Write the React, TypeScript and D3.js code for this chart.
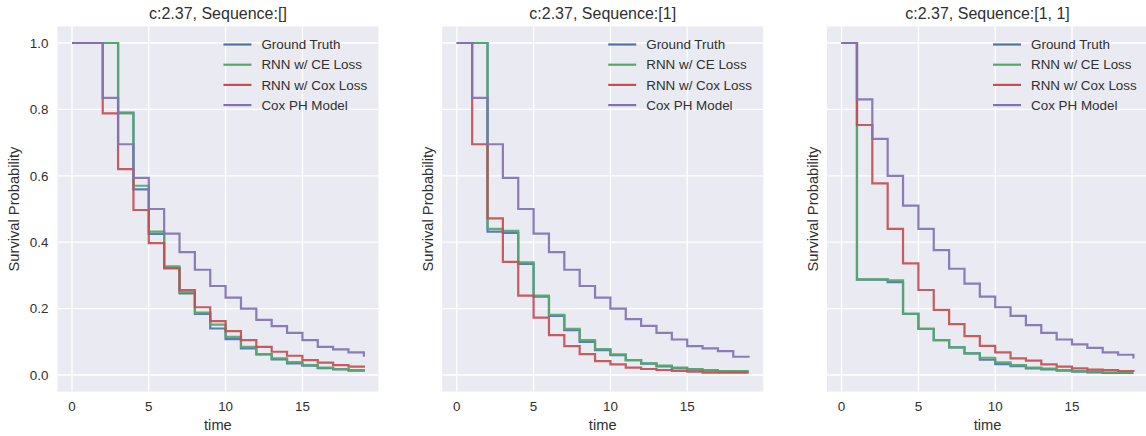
import React, { useEffect, useRef } from 'react';
import * as d3 from 'd3';

// time steps shared by every panel
const times = [0, 1, 2, 3, 4, 5, 6, 7, 8, 9, 10, 11, 12, 13, 14, 15, 16, 17, 18, 19];

const seriesNames = ['Ground Truth', 'RNN w/ CE Loss', 'RNN w/ Cox Loss', 'Cox PH Model'];
const seriesColors = ['#4C72B0', '#55A868', '#C44E52', '#8172B2'];

const titles = ['c:2.37, Sequence:[]', 'c:2.37, Sequence:[1]', 'c:2.37, Sequence:[1, 1]'];

const xTicks = [0, 5, 10, 15];
const yTicks = [0, 0.2, 0.4, 0.6, 0.8, 1.0];

// panel 1 : Sequence []
const truth0 = [1, 1, 1, 0.79, 0.559, 0.425, 0.323, 0.246, 0.184, 0.14, 0.108, 0.08, 0.062, 0.047, 0.035, 0.028, 0.021, 0.017, 0.013, 0.01];
const ce0 = [1, 1, 1, 0.788, 0.57, 0.432, 0.327, 0.25, 0.188, 0.152, 0.115, 0.085, 0.063, 0.05, 0.039, 0.03, 0.022, 0.018, 0.015, 0.012];
const cox0 = [1, 1, 0.788, 0.62, 0.497, 0.397, 0.321, 0.256, 0.204, 0.162, 0.132, 0.105, 0.085, 0.07, 0.058, 0.045, 0.037, 0.03, 0.025, 0.022];
const ph0 = [1, 1, 0.835, 0.695, 0.594, 0.5, 0.426, 0.37, 0.317, 0.268, 0.233, 0.2, 0.166, 0.147, 0.127, 0.105, 0.085, 0.077, 0.068, 0.055];

// panel 2 : Sequence [1]
const truth1 = [1, 1, 0.432, 0.428, 0.335, 0.236, 0.178, 0.135, 0.1, 0.075, 0.06, 0.045, 0.034, 0.026, 0.02, 0.016, 0.013, 0.011, 0.01, 0.01];
const ce1 = [1, 1, 0.44, 0.434, 0.339, 0.239, 0.181, 0.139, 0.105, 0.078, 0.062, 0.045, 0.035, 0.028, 0.022, 0.018, 0.015, 0.012, 0.012, 0.012];
const cox1 = [1, 0.695, 0.472, 0.341, 0.239, 0.173, 0.12, 0.087, 0.063, 0.042, 0.032, 0.022, 0.018, 0.015, 0.012, 0.01, 0.007, 0.007, 0.007, 0.007];
const ph1 = [1, 0.835, 0.695, 0.594, 0.5, 0.426, 0.37, 0.317, 0.268, 0.233, 0.2, 0.168, 0.148, 0.127, 0.107, 0.087, 0.08, 0.072, 0.055, 0.053];

// panel 3 : Sequence [1, 1]
const truth2 = [1, 0.287, 0.287, 0.28, 0.184, 0.139, 0.105, 0.083, 0.065, 0.046, 0.033, 0.027, 0.02, 0.017, 0.013, 0.01, 0.008, 0.006, 0.006, 0.006];
const ce2 = [1, 0.288, 0.288, 0.285, 0.184, 0.139, 0.105, 0.083, 0.065, 0.052, 0.038, 0.03, 0.022, 0.019, 0.015, 0.012, 0.01, 0.008, 0.008, 0.008];
const cox2 = [1, 0.753, 0.577, 0.44, 0.336, 0.256, 0.196, 0.153, 0.117, 0.088, 0.068, 0.05, 0.043, 0.032, 0.025, 0.02, 0.016, 0.015, 0.012, 0.01];
const ph2 = [1, 0.83, 0.711, 0.6, 0.51, 0.44, 0.376, 0.32, 0.275, 0.236, 0.204, 0.178, 0.15, 0.127, 0.107, 0.092, 0.082, 0.068, 0.061, 0.05];

const panels = [
  [truth0, ce0, cox0, ph0],
  [truth1, ce1, cox1, ph1],
  [truth2, ce2, cox2, ph2],
];

const W = 1146, H = 436;
const FONT = '"Liberation Sans", Arial, sans-serif';
const TEXT = '#303030';

const App = () => {
  const ref = useRef<SVGSVGElement>(null);

  useEffect(() => {
    const svg = d3.select(ref.current);
    svg.selectAll('*').remove();

    const unit = 15.36;
    const panelOrigins = [72, 456.8, 841.6];
    const y = d3.scaleLinear().domain([0, 1]).range([375, 43]);
    const top = y(1.05), bottom = y(-0.05);

    panels.forEach((series, p) => {
      const x = d3.scaleLinear().domain([0, 1]).range([panelOrigins[p], panelOrigins[p] + unit]);
      const left = x(-0.95), right = x(19.95);
      const g = svg.append('g');

      g.append('rect')
        .attr('x', left).attr('y', top)
        .attr('width', right - left).attr('height', bottom - top)
        .attr('fill', '#EAEAF2');

      // grid
      g.selectAll('.gx').data(xTicks).enter().append('line')
        .attr('x1', d => x(d)).attr('x2', d => x(d))
        .attr('y1', top).attr('y2', bottom)
        .attr('stroke', '#fff').attr('stroke-width', 1.3);
      g.selectAll('.gy').data(yTicks).enter().append('line')
        .attr('x1', left).attr('x2', right)
        .attr('y1', d => y(d)).attr('y2', d => y(d))
        .attr('stroke', '#fff').attr('stroke-width', 1.3);

      // step lines
      const line = d3.line<number>()
        .x((d, i) => x(times[i]))
        .y(d => y(d))
        .curve(d3.curveStepAfter);

      series.forEach((vals, s) => {
        g.append('path')
          .datum(vals)
          .attr('d', line)
          .attr('fill', 'none')
          .attr('stroke', seriesColors[s])
          .attr('stroke-width', 2.2)
          .attr('stroke-opacity', 0.92);
      });

      // x tick labels
      g.selectAll('.tx').data(xTicks).enter().append('text')
        .attr('x', d => x(d)).attr('y', 410.5)
        .attr('text-anchor', 'middle')
        .attr('font-family', FONT).attr('font-size', 13.4)
        .attr('fill', TEXT)
        .text(d => d);

      // y tick labels only on first panel
      if (p === 0) {
        g.selectAll('.ty').data(yTicks).enter().append('text')
          .attr('x', left - 9).attr('y', d => y(d))
          .attr('dy', '0.36em')
          .attr('text-anchor', 'end')
          .attr('font-family', FONT).attr('font-size', 13.4)
          .attr('fill', TEXT)
          .text(d => d3.format('.1f')(d));
      }

      g.append('text')
        .attr('x', (left + right) / 2).attr('y', 430)
        .attr('text-anchor', 'middle')
        .attr('font-family', FONT).attr('font-size', 14.7)
        .attr('fill', TEXT)
        .text('time');

      const lx = p === 0 ? 19 : left - 9;
      g.append('text')
        .attr('transform', `translate(${lx},${(top + bottom) / 2}) rotate(-90)`)
        .attr('text-anchor', 'middle')
        .attr('font-family', FONT).attr('font-size', 14.7)
        .attr('fill', TEXT)
        .text('Survival Probability');

      g.append('text')
        .attr('x', (left + right) / 2).attr('y', 18.5)
        .attr('text-anchor', 'middle')
        .attr('font-family', FONT).attr('font-size', 16)
        .attr('fill', TEXT)
        .text(titles[p]);

      // legend
      const lg = g.append('g').attr('transform', `translate(${right - 155},0)`);
      seriesNames.forEach((name, s) => {
        const ry = 44.5 + s * 20.2;
        lg.append('line')
          .attr('x1', 0).attr('x2', 28)
          .attr('y1', ry).attr('y2', ry)
          .attr('stroke', seriesColors[s]).attr('stroke-width', 2.2);
        lg.append('text')
          .attr('x', 38).attr('y', ry).attr('dy', '0.35em')
          .attr('font-family', FONT).attr('font-size', 13.4)
          .attr('fill', TEXT)
          .text(name);
      });
    });
  }, []);

  return (
    <svg ref={ref} width={W} height={H}
      style={{ position: 'absolute', left: 0, top: 0, background: '#fff' }}>
    </svg>
  );
};

export default App;
